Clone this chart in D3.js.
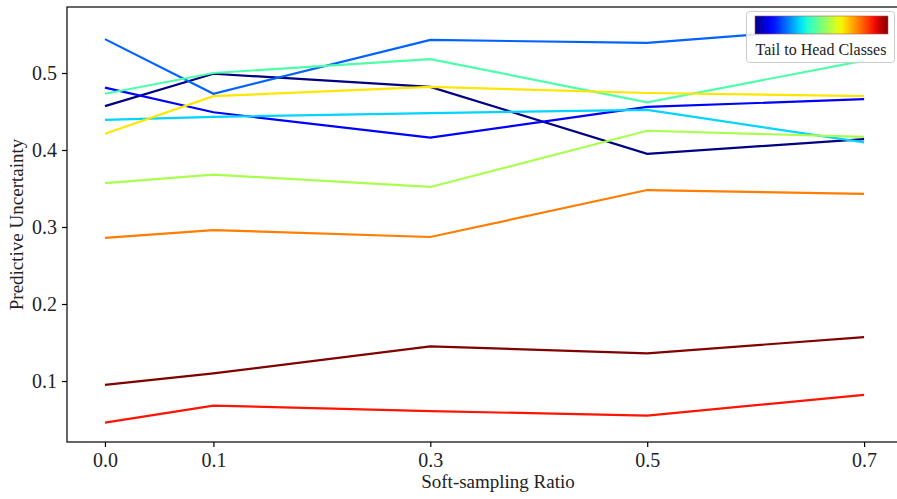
<!DOCTYPE html>
<html>
<head>
<meta charset="utf-8">
<script src="https://cdn.jsdelivr.net/npm/d3@7"></script>
<style>
  body { margin: 0; background: #fff; }
  svg { display: block; font-family: "Liberation Serif", "DejaVu Serif", serif; }
</style>
</head>
<body>
<div id="chart"></div>
<script>
var chart_width  = 897;
var chart_height = 499;

// data
var ratios = [0.0, 0.1, 0.3, 0.5, 0.7];
var tickLabels = ["0.0", "0.1", "0.3", "0.5", "0.7"];
var yTicks = [0.1, 0.2, 0.3, 0.4, 0.5];

// one series per class group, tail -> head
var s0 = [0.457, 0.499, 0.482, 0.395, 0.414];
var s1 = [0.481, 0.449, 0.416, 0.456, 0.466];
var s2 = [0.544, 0.473, 0.543, 0.539, 0.561];
var s3 = [0.439, 0.443, 0.448, 0.452, 0.410];
var s4 = [0.473, 0.500, 0.518, 0.462, 0.516];
var s5 = [0.357, 0.368, 0.352, 0.425, 0.417];
var s6 = [0.421, 0.470, 0.482, 0.474, 0.470];
var s7 = [0.286, 0.296, 0.287, 0.348, 0.343];
var s8 = [0.046, 0.068, 0.061, 0.055, 0.082];
var s9 = [0.095, 0.110, 0.145, 0.136, 0.157];
var series = [s0, s1, s2, s3, s4, s5, s6, s7, s8, s9];

var m_left = 67, m_top = 7, m_bottom = 442, m_right = 927;

// matplotlib "jet"
function jet(t) {
  function seg(pts) {
    for (var i = 1; i < pts.length; i++) {
      if (t <= pts[i][0]) {
        var a = pts[i - 1], b = pts[i];
        return a[1] + (b[1] - a[1]) * (t - a[0]) / (b[0] - a[0]);
      }
    }
    return pts[pts.length - 1][1];
  }
  var r = seg([[0, 0], [0.35, 0], [0.66, 1], [0.89, 1], [1, 0.5]]);
  var g = seg([[0, 0], [0.125, 0], [0.375, 1], [0.64, 1], [0.91, 0], [1, 0]]);
  var b = seg([[0, 0.5], [0.11, 1], [0.34, 1], [0.65, 0], [1, 0]]);
  return d3.rgb(r * 255, g * 255, b * 255).toString();
}

var x = d3.scaleLinear()
  .domain([-0.035, 0.758])
  .range([m_left, m_right]);

var y = d3.scaleLinear()
  .domain([0.0208, 0.5857])
  .range([m_bottom, m_top]);

var svg = d3.select("#chart")
  .append("svg")
  .attr("width", chart_width)
  .attr("height", chart_height);

// lines
var line = d3.line()
  .x(function(d, i){ return x(ratios[i]); })
  .y(function(d){ return y(d); });

svg.append("g")
  .selectAll("path")
  .data(series)
  .enter()
  .append("path")
  .attr("d", line)
  .attr("fill", "none")
  .attr("stroke-width", 2.2)
  .attr("stroke", function(d, i){ return jet(i / (series.length - 1)); });

// frame
svg.append("rect")
  .attr("x", m_left)
  .attr("y", m_top)
  .attr("width", m_right - m_left)
  .attr("height", m_bottom - m_top)
  .attr("fill", "none")
  .attr("stroke", "#000")
  .attr("stroke-width", 1.2);

// axes
var xAxis = svg.append("g")
  .attr("transform", "translate(0," + m_bottom + ")")
  .call(d3.axisBottom(x).tickValues(ratios)
    .tickFormat(function(d, i){ return tickLabels[i]; })
    .tickSize(5).tickPadding(6));

var yAxis = svg.append("g")
  .attr("transform", "translate(" + m_left + ",0)")
  .call(d3.axisLeft(y).tickValues(yTicks)
    .tickFormat(d3.format(".1f"))
    .tickSize(5).tickPadding(5));

[xAxis, yAxis].forEach(function(a){
  a.select(".domain").remove();
  a.selectAll("line").attr("stroke", "#000").attr("stroke-width", 1.2);
  a.selectAll("text")
    .attr("fill", "#222")
    .style("font-family", "Liberation Serif, serif")
    .style("font-size", "20px");
});

// axis titles
svg.append("text")
  .attr("x", 498)
  .attr("y", 488)
  .attr("text-anchor", "middle")
  .attr("fill", "#222")
  .style("font-size", "19px")
  .text("Soft-sampling Ratio");

svg.append("text")
  .attr("transform", "translate(23," + ((m_top + m_bottom) / 2) + ") rotate(-90)")
  .attr("text-anchor", "middle")
  .attr("fill", "#222")
  .style("font-size", "19px")
  .text("Predictive Uncertainty");

// legend with colour bar
var defs = svg.append("defs");
var grad = defs.append("linearGradient").attr("id", "jetgrad");
d3.range(0, 1.0001, 0.05).forEach(function(t){
  grad.append("stop")
    .attr("offset", (t * 100) + "%")
    .attr("stop-color", jet(t));
});

var legend = svg.append("g");
legend.append("rect")
  .attr("x", 746.5).attr("y", 11.5)
  .attr("width", 148).attr("height", 51)
  .attr("rx", 3)
  .attr("fill", "#fff")
  .attr("fill-opacity", 0.85)
  .attr("stroke", "#ccc");

legend.append("rect")
  .attr("x", 755).attr("y", 16)
  .attr("width", 133).attr("height", 18)
  .attr("fill", "url(#jetgrad)")
  .attr("stroke", "#b55")
  .attr("stroke-width", 0.6);

legend.append("text")
  .attr("x", 821)
  .attr("y", 55)
  .attr("text-anchor", "middle")
  .attr("fill", "#222")
  .style("font-size", "16px")
  .text("Tail to Head Classes");
</script>
</body>
</html>
